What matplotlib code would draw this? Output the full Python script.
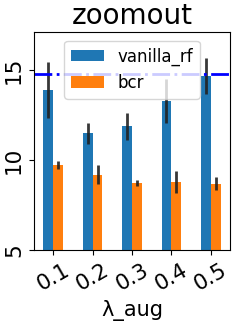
import numpy as np
import matplotlib
matplotlib.use("Agg")
import matplotlib.pyplot as plt

lams = ["0.1", "0.2", "0.3", "0.4", "0.5"]
vanilla_rf = [13.9, 11.5, 11.9, 13.3, 14.7]
vanilla_err = [1.55, 0.6, 0.75, 1.2, 1.0]
bcr = [9.76, 9.2, 8.75, 8.8, 8.7]
bcr_err = [0.22, 0.54, 0.17, 0.63, 0.35]
baseline = 14.8

fig, ax = plt.subplots(figsize=(2.4, 3.21), dpi=100)
x = np.arange(len(lams))
w = 0.25
ax.bar(x - w/2, vanilla_rf, w, yerr=vanilla_err, color="#1f77b4", label="vanilla_rf",
       error_kw=dict(ecolor="#222222", elinewidth=2, alpha=0.9))
ax.bar(x + w/2, bcr, w, yerr=bcr_err, color="#ff7f0e", label="bcr",
       error_kw=dict(ecolor="#222222", elinewidth=2, alpha=0.9))
ax.axhline(baseline, color="blue", linestyle="-.", linewidth=2)

ax.set_xlim(-0.5, 4.5)
ax.set_ylim(5, 17.12)
ax.set_yticks([5, 10, 15])
ax.set_xticks(x)
ax.set_xticklabels(lams, rotation=30, fontsize=15.5)
ax.tick_params(axis="y", labelsize=15.5, labelrotation=90)
for lbl in ax.get_yticklabels():
    lbl.set_va("center")
ax.set_xlabel("λ_aug", fontsize=15)
ax.set_title("zoomout", fontsize=20)
ax.legend(loc="upper center", fontsize=12)

plt.subplots_adjust(left=0.14, right=0.96, top=0.899, bottom=0.221)
fig.savefig("out.png", dpi=100)
